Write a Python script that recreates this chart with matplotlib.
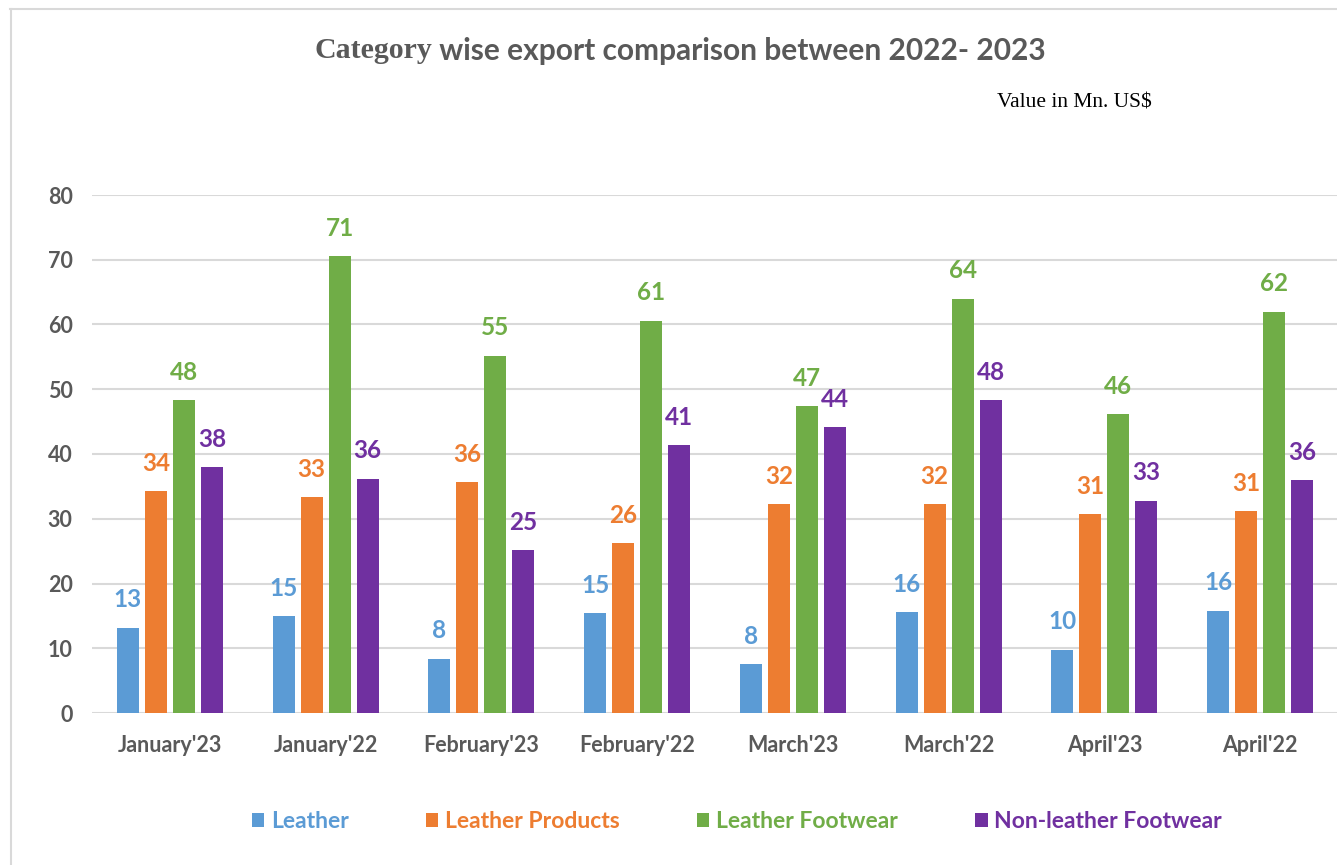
import matplotlib
matplotlib.use("Agg")
import matplotlib.pyplot as plt
from matplotlib.lines import Line2D
import numpy as np

categories = ["January'23", "January'22", "February'23", "February'22",
              "March'23", "March'22", "April'23", "April'22"]
series_names = ["Leather", "Leather Products", "Leather Footwear", "Non-leather Footwear"]
leather = [13.2, 15.0, 8.4, 15.4, 7.5, 15.6, 9.8, 15.8]
leather_products = [34.3, 33.3, 35.7, 26.2, 32.3, 32.3, 30.7, 31.2]
leather_footwear = [48.3, 70.6, 55.2, 60.6, 47.4, 64.0, 46.2, 62.0]
nonleather_footwear = [38.0, 36.2, 25.2, 41.4, 44.2, 48.3, 32.8, 36.0]
yticks = [0, 10, 20, 30, 40, 50, 60, 70, 80]

colors = ["#5B9BD5", "#ED7D31", "#70AD47", "#7030A0"]
SANS = ["Liberation Sans Narrow", "Lato", "DejaVu Sans"]
GRAY = "#595959"

W, H = 1337, 865
fig = plt.figure(figsize=(W / 100, H / 100), dpi=100)

def fx(px):
    return px / W

def fy(py):
    return 1 - py / H

ax = fig.add_axes([fx(92), fy(713), fx(1338) - fx(92), fy(195) - fy(713)])

data = [leather, leather_products, leather_footwear, nonleather_footwear]
x = np.arange(len(categories))
step = 0.18
width = 0.141
bars_list = []
for i, (vals, c, name) in enumerate(zip(data, colors, series_names)):
    bars = ax.bar(x + (i - 1.5) * step, vals, width=width, color=c, label=name, zorder=3)
    bars_list.append(bars)
    for b, v in zip(bars, vals):
        ax.annotate(f"{v:.0f}", (b.get_x() + b.get_width() / 2, v),
                    xytext=(0, 20), textcoords="offset points",
                    ha="center", va="center", color=c, fontsize=17.5,
                    fontweight="bold", family=SANS)

ax.set_xlim(-0.5, len(categories) - 0.5)
ax.set_ylim(0, 80)
ax.set_yticks(yticks)
ax.set_xticks(x)
ax.set_xticklabels(categories)
for s in ax.spines.values():
    s.set_visible(False)
ax.grid(axis="y", color="#D9D9D9", linewidth=1.5, zorder=0)
ax.tick_params(axis="both", length=0, labelcolor=GRAY, labelsize=15.5)
ax.tick_params(axis="y", pad=14)
ax.tick_params(axis="x", pad=16)
for lab in ax.get_xticklabels() + ax.get_yticklabels():
    lab.set_fontweight("bold")
    lab.set_family(SANS)

# legend
leg = fig.legend(handles=bars_list, labels=series_names, loc="center",
                 bbox_to_anchor=(fx(737), fy(822)), ncol=4, frameon=False,
                 prop={"family": SANS, "weight": "bold", "size": 16.5},
                 labelcolor=colors, handlelength=0.55, handleheight=0.55,
                 handletextpad=0.3, columnspacing=3.35)

# title in two fonts
t1 = fig.text(0, fy(51), "Category", family=["Liberation Serif", "DejaVu Serif"],
              fontweight="bold", fontsize=21.5, color=GRAY, ha="left", va="center")
t2 = fig.text(0, fy(51), " wise export comparison between 2022- 2023", family=SANS,
              fontweight="bold", fontsize=21.5, color=GRAY, ha="left", va="center")
fig.canvas.draw()
r = fig.canvas.get_renderer()
w1 = t1.get_window_extent(r).width
w2 = t2.get_window_extent(r).width
start = 680 - (w1 + w2) / 2
t1.set_x(fx(start))
t2.set_x(fx(start + w1))

fig.text(fx(997), fy(103), "Value in Mn. US$", family=["Liberation Serif", "DejaVu Serif"],
         fontsize=15.5, color="black", ha="left", va="center")

# chart-area border
fig.add_artist(Line2D([fx(10.5), fx(10.5)], [fy(9), 0], color="#D9D9D9", linewidth=1.5))
fig.add_artist(Line2D([fx(10), 1], [fy(9), fy(9)], color="#D9D9D9", linewidth=1.5))

fig.savefig("out.png", dpi=100)
